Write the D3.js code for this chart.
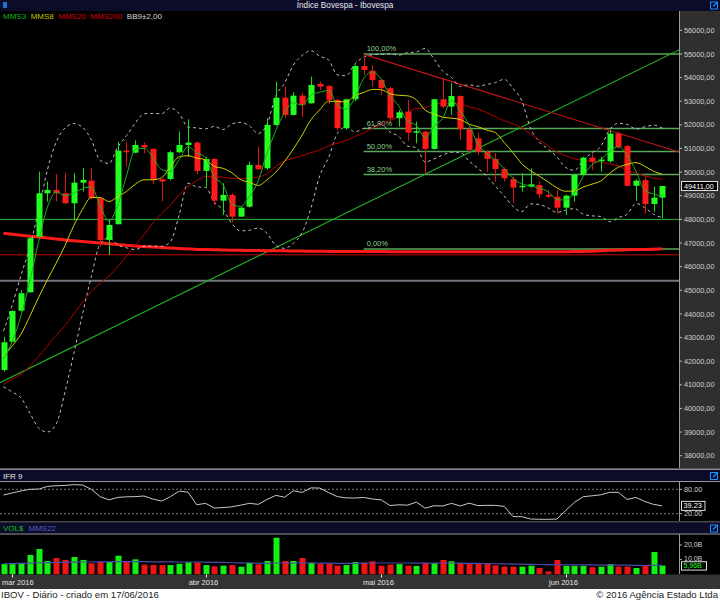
<!DOCTYPE html>
<html>
<head>
<meta charset="utf-8">
<script src="https://cdnjs.cloudflare.com/ajax/libs/d3/7.8.5/d3.min.js"></script>
<style>
    body { margin: 0; background: #ffffff; }
    svg { display: block; font-family: "Liberation Sans", Arial, sans-serif; }
</style>
</head>
<body>
<svg id="chart"></svg>
<script>

// trading days shown on the chart
var dates = ["2016-02-29",
    "2016-03-01","2016-03-02","2016-03-03","2016-03-04","2016-03-07","2016-03-08","2016-03-09","2016-03-10","2016-03-11",
    "2016-03-14","2016-03-15","2016-03-16","2016-03-17","2016-03-18","2016-03-21","2016-03-22","2016-03-23","2016-03-24",
    "2016-03-28","2016-03-29","2016-03-30","2016-03-31",
    "2016-04-01","2016-04-04","2016-04-05","2016-04-06","2016-04-07","2016-04-08","2016-04-11","2016-04-12","2016-04-13",
    "2016-04-14","2016-04-15","2016-04-18","2016-04-19","2016-04-20","2016-04-22","2016-04-25","2016-04-26","2016-04-27",
    "2016-04-28","2016-04-29",
    "2016-05-02","2016-05-03","2016-05-04","2016-05-05","2016-05-06","2016-05-09","2016-05-10","2016-05-11","2016-05-12",
    "2016-05-13","2016-05-16","2016-05-17","2016-05-18","2016-05-19","2016-05-20","2016-05-23","2016-05-24","2016-05-25",
    "2016-05-27","2016-05-30","2016-05-31",
    "2016-06-01","2016-06-02","2016-06-03","2016-06-06","2016-06-07","2016-06-08","2016-06-09","2016-06-10","2016-06-13",
    "2016-06-14","2016-06-15","2016-06-16"];

var open = [41627,42824,44136,44915,47268,49105,49244,49105,48681,49553,
    49638,48893,47128,47793,50907,50823,51149,50980,49700,49709,
    50840,51149,51246,50048,50556,48791,49033,48115,48537,50302,
    50162,51995,53150,52419,53235,52912,53730,53645,53052,51855,
    53082,54490,54290,53900,53550,52280,52560,51690,51710,50980,
    53082,52770,53220,51810,51430,50865,50556,50133,49700,49380,
    49380,49456,49033,48960,48495,49003,49880,50611,50458,50458,
    51630,51100,49420,49660,48650,48920];
var high = [43040,44150,45000,47250,50019,49596,49920,49977,49950,50163,
    50163,48930,47975,51289,51289,51345,51250,51010,49720,50900,
    51712,52236,51300,50654,50600,49528,49105,48537,50442,51077,
    52279,53828,53616,53380,53337,54039,53828,53700,53100,53100,
    54550,54985,54530,53950,53600,52630,53052,52135,51750,53100,
    53970,53760,53250,51850,51670,50900,50797,50200,49807,49950,
    50163,49600,49245,49245,49050,49900,50650,50797,50654,51780,
    51700,51150,49700,49807,49384,49420];
var low = [41550,42790,44100,44900,47200,48750,48750,48650,47945,49173,
    48850,46845,46494,47793,50230,50800,50800,49500,48770,49650,
    50800,50654,49900,49384,48610,48187,47877,48100,48500,50090,
    50100,51950,52279,52400,52347,52900,53476,52900,51750,51800,
    53000,54110,53616,53265,52200,51923,51330,51220,49920,50950,
    52700,52420,51360,50850,50725,50000,49596,49600,48681,49173,
    49350,48900,48900,48258,48187,48750,49850,50090,50019,50400,
    51000,49400,48780,48230,48325,48046];
var close = [42799,44123,44873,47200,49105,49244,49105,48681,49553,49667,
    48893,47128,47763,50907,50840,51149,51050,49667,49600,50840,
    51149,51246,50048,50556,48791,49033,48115,48495,50302,50121,
    51995,53150,52419,53235,52842,53688,53616,53052,51855,53082,
    54490,54320,53900,53550,52280,52532,51670,51730,50980,53082,
    52770,53220,51810,50937,50865,50556,50133,49740,49345,49420,
    49484,49063,48960,48495,49003,49880,50611,50442,50530,51630,
    51065,49420,49635,48650,48920,49411];

// financial volume, billions
var volume = [7.0,7.0,7.7,13.2,17.3,9.1,11.1,9.8,11.8,9.8,
    7.5,8.4,8.4,12.7,9.1,10.2,6.6,6.3,6.3,6.3,
    7.2,8.2,8.2,6.3,5.4,5.9,6.3,5.2,7.9,6.8,
    9.1,25.0,9.1,9.1,11.1,7.9,7.2,7.2,5.9,6.3,
    8.4,7.9,8.9,5.9,6.6,7.0,5.9,5.7,7.7,7.7,
    9.8,8.9,7.7,7.0,7.0,7.7,6.1,5.2,5.2,5.2,
    5.9,4.3,2.0,9.8,5.7,5.7,5.7,4.8,5.2,7.0,
    5.2,5.2,4.3,6.3,15.2,5.96];
var volMms22 = [7.2,7.3,7.4,7.6,7.9,8.0,8.1,8.2,8.3,8.4,
    8.4,8.5,8.5,8.6,8.6,8.6,8.6,8.5,8.5,8.5,
    8.4,8.4,8.4,8.3,8.2,8.1,7.9,7.8,7.7,7.6,
    7.5,7.7,7.7,7.7,7.8,7.7,7.6,7.6,7.5,7.5,
    7.5,7.6,7.7,7.7,7.7,7.7,7.7,7.6,7.6,7.6,
    7.7,7.7,7.6,7.5,7.4,7.3,7.2,7.1,7.0,6.9,
    6.8,6.7,6.6,6.6,6.5,6.5,6.4,6.4,6.3,6.3,
    6.3,6.2,6.1,6.1,6.1,6.2];

var mms3 = [42100,42840,43932,45399,47059,48516,49151,49010,49113,49300,
    49371,48563,47928,48599,49837,50965,51013,50622,50106,50036,
    50530,51078,50814,50617,49798,49460,48646,48548,48971,49639,
    50806,51755,52521,52935,52832,53255,53382,53452,52841,52663,
    53142,53964,54237,53923,53243,52787,52161,51977,51460,51931,
    52277,53024,52600,51989,51204,50786,50518,50143,49739,49502,
    49416,49322,49169,48839,48819,49126,49831,50311,50528,50867,
    51075,50705,50040,49235,49068,48994];
var mms8 = [42200,42650,43150,43900,44700,45450,46150,46891,47736,48429,
    48931,48922,48754,48962,49179,49488,49675,49675,49763,50227,
    50650,50693,50594,50520,50237,50158,49972,49679,49573,49433,
    49676,50000,50454,50979,51570,52219,52633,53000,52982,52974,
    53233,53368,53500,53483,53316,53251,53228,53059,52620,52466,
    52324,52283,52224,52025,51924,51778,51672,51254,50826,50351,
    50060,49826,49588,49330,49189,49206,49365,49492,49623,49944,
    50207,50323,50402,50248,50037,49908];
var mms20 = [41000,41250,41450,41800,42200,42650,43100,43500,44000,44500,
    44950,45300,45600,46000,46450,46900,47350,47850,48250,48609,
    49027,49383,49642,49810,49794,49783,49734,49725,49762,49785,
    49940,50241,50474,50590,50690,50817,50945,51115,51227,51340,
    51507,51660,51853,52003,52177,52352,52530,52691,52725,52873,
    52912,52916,52885,52770,52671,52515,52341,52175,52050,51867,
    51616,51353,51106,50854,50690,50557,50504,50440,50417,50345,
    50259,50069,49961,49846,49749,49692];
var mms200 = [47410,47370,47330,47290,47250,47210,47170,47130,47098,47066,
    47034,47002,46970,46938,46905,46870,46850,46830,46810,46790,
    46770,46750,46730,46722,46714,46706,46698,46690,46685,46681,
    46676,46672,46667,46663,46658,46654,46649,46645,46640,46639,
    46638,46638,46637,46636,46635,46634,46633,46632,46631,46630,
    46630,46629,46628,46628,46627,46627,46626,46626,46625,46625,
    46625,46627,46629,46631,46633,46636,46645,46655,46670,46690,
    46700,46710,46720,46730,46740,46750];
var bbUpper = [43277,44378,45647,46832,48398,50091,51276,51868,52054,51896,
    51368,50495,50365,51058,51544,52076,52467,52480,52473,52717,
    52470,51906,51870,51831,51931,51802,52039,52102,51956,51635,
    52023,53227,53764,54530,54936,55138,54902,54755,54118,54076,
    54579,54860,54964,54985,55008,54949,55054,55081,55232,54789,
    54277,54005,53626,53693,53635,53707,53788,53926,53537,53017,
    51856,51272,50976,50639,50195,50076,50510,50817,51091,51792,
    52063,52020,51821,51916,51987,51862];
var bbLower = [40920,40696,40442,39807,39172,39003,39342,40696,42314,44000,
    45588,46963,47217,46926,46796,46720,46855,46868,46861,47049,
    48190,49530,49374,49351,48727,48406,47823,47514,47540,47631,
    47411,46895,46772,46994,47436,48474,49850,50607,51630,51912,
    51707,51848,51892,52029,51692,51509,51098,51041,50424,50553,
    50721,50841,50834,50469,50159,49839,49404,48990,48549,48325,
    48656,48628,48484,48295,48391,48456,48214,48149,48123,47900,
    48075,48220,48673,48500,48215,48074];

var ifr = [66,71,76,80,80.5,87,88.8,89.5,91.5,90.5,
    80,62,54,60,61.5,62,63.5,56,51,62,
    75.5,73,42,45.5,34,35,37,41,45.5,43,
    55,65,60.5,76.5,72.4,83.5,83,72,62,59,
    58.5,60,56,54,40,42,41,48.5,33.5,39.5,
    39,45.5,39,46,40,40.5,40.5,38,13,12.6,
    7,6.2,6.2,6.8,28,48,61.8,64,66.5,72.5,
    72.6,55,60,50,43,39.23];

// drawn objects: trend lines (day index, price), horizontal levels, fibonacci
var greenTrend = [[-0.4, 41090], [76.9, 55170]];
var redTrend = [[41.3, 54950], [76.9, 50850]];
var levels = [48000, 46500, 45400];
var fibHigh = 55000, fibLow = 46750, fibStart = 41;
var fibLevels = [1, 0.618, 0.5, 0.382, 0];
var fibLabels = ["100,00%", "61,80%", "50,00%", "38,20%", "0,00%"];

var priceTicks = [38000,39000,40000,41000,42000,43000,44000,45000,46000,47000,
    48000,49000,50000,51000,52000,53000,54000,55000,56000];
var ifrTicks = [20, 80];
var volTicks = [10, 20];
var monthNames = ["jan","fev","mar","abr","mai","jun","jul","ago","set","out","nov","dez"];

var W = 720, H = 600;
var plotRight = 679;

var svg = d3.select("#chart").attr("width", W).attr("height", H);

svg.append("rect").attr("width", W).attr("height", H).attr("fill", "#000");

var x = d3.scaleLinear().domain([-0.4, 76.9]).range([0, plotRight]);
var y = d3.scaleLinear().domain([38000, 56000]).range([455.7, 30.3]);
var yIfr = d3.scaleLinear().domain([20, 80]).range([513.7, 489.3]);
var yVol = d3.scaleLinear().domain([0, 20]).range([574.3, 545]);

var idx = d3.range(dates.length);

//clip regions for the three panels
var defs = svg.append("defs");
defs.append("clipPath").attr("id", "clipMain")
    .append("rect").attr("x", 0).attr("y", 11).attr("width", plotRight).attr("height", 457);
defs.append("clipPath").attr("id", "clipIfr")
    .append("rect").attr("x", 0).attr("y", 482).attr("width", plotRight).attr("height", 39);
defs.append("clipPath").attr("id", "clipVol")
    .append("rect").attr("x", 0).attr("y", 534).attr("width", plotRight).attr("height", 41);

// ---------- frame ----------
svg.append("rect").attr("x", 0).attr("y", 0).attr("width", W).attr("height", 11).attr("fill", "#0b0b2a");
svg.append("text").attr("x", 345).attr("y", 8.2).attr("text-anchor", "middle")
    .attr("fill", "#e8e8e8").attr("font-size", 8.2).text("Índice Bovespa - Ibovespa");

function icon(x0, y0) {
    svg.append("rect").attr("x", x0 + 0.5).attr("y", y0 + 0.5).attr("width", 7).attr("height", 7)
        .attr("fill", "none").attr("stroke", "#1e8fff");
    svg.append("path").attr("d", "M" + (x0 + 3) + "," + (y0 + 5) + "L" + (x0 + 7) + "," + (y0 + 1))
        .attr("stroke", "#1e8fff").attr("stroke-width", 1.2);
}
svg.append("rect").attr("x", 3).attr("y", 2).attr("width", 4).attr("height", 6).attr("fill", "#1a6fd8");
icon(710, 1.5);

// right axis of the price panel
svg.append("rect").attr("x", plotRight).attr("y", 11).attr("width", W - plotRight).attr("height", 457).attr("fill", "#2f2f2f");
svg.append("line").attr("x1", plotRight + 0.5).attr("x2", plotRight + 0.5).attr("y1", 11).attr("y2", 468)
    .attr("stroke", "#9a9a9a");

var pAxis = svg.append("g");
pAxis.selectAll("line").data(priceTicks).enter().append("line")
    .attr("x1", plotRight).attr("x2", plotRight + 3)
    .attr("y1", function (d) { return y(d); }).attr("y2", function (d) { return y(d); })
    .attr("stroke", "#bbb");
pAxis.selectAll("text").data(priceTicks).enter().append("text")
    .attr("x", 684).attr("y", function (d) { return y(d) + 2.6; })
    .attr("fill", "#d0d0d0").attr("font-size", 7.3)
    .text(function (d) { return d + ",00"; });

// ---------- price panel ----------
var main = svg.append("g").attr("clip-path", "url(#clipMain)");

// horizontal levels
var levelColors = ["#2fb52f", "#c80000", "#74747f"];
var levelWidths = [1, 1, 2];
levels.forEach(function (v, k) {
    main.append("line").attr("x1", 0).attr("x2", plotRight)
        .attr("y1", y(v)).attr("y2", y(v))
        .attr("stroke", levelColors[k]).attr("stroke-width", levelWidths[k]);
});

// fibonacci retracement
fibLevels.forEach(function (f, k) {
    var v = fibLow + (fibHigh - fibLow) * f;
    main.append("line").attr("x1", x(fibStart)).attr("x2", plotRight)
        .attr("y1", y(v)).attr("y2", y(v))
        .attr("stroke", "#58a858").attr("stroke-width", 1.5);
    main.append("text").attr("x", x(fibStart) + 3).attr("y", y(v) - 2.5)
        .attr("fill", "#8fd08f").attr("font-size", 7.5).text(fibLabels[k]);
});

// trend lines
function trend(pts, color) {
    main.append("line")
        .attr("x1", x(pts[0][0])).attr("y1", y(pts[0][1]))
        .attr("x2", x(pts[1][0])).attr("y2", y(pts[1][1]))
        .attr("stroke", color).attr("stroke-width", 1.1);
}
trend(greenTrend, "#22b022");
trend(redTrend, "#c81414");

// MMS200
var lineOf = function (arr, sc) {
    return d3.line().x(function (i) { return x(i); }).y(function (i) { return sc(arr[i]); }).curve(d3.curveMonotoneX)(idx);
};
main.append("path").attr("d", lineOf(mms200, y)).attr("fill", "none")
    .attr("stroke", "#ff1a1a").attr("stroke-width", 3);

// bollinger bands
[bbUpper, bbLower].forEach(function (arr) {
    main.append("path").attr("d", lineOf(arr, y)).attr("fill", "none")
        .attr("stroke", "#bdbdbd").attr("stroke-width", 1).attr("stroke-dasharray", "3,3");
});

main.append("path").attr("d", lineOf(mms20, y)).attr("fill", "none").attr("stroke", "#b40000").attr("stroke-width", 1);

// candles
var up = function (i) { return close[i] >= open[i]; };
var candle = main.selectAll("g.candle").data(idx).enter().append("g").attr("class", "candle");
candle.append("line")
    .attr("x1", function (i) { return Math.round(x(i)) + 0.5; })
    .attr("x2", function (i) { return Math.round(x(i)) + 0.5; })
    .attr("y1", function (i) { return y(high[i]); })
    .attr("y2", function (i) { return y(low[i]); })
    .attr("stroke", function (i) { return up(i) ? "#14e014" : "#e01414"; });
candle.append("rect")
    .attr("x", function (i) { return Math.round(x(i)) - 2.5; })
    .attr("width", 6)
    .attr("y", function (i) { return y(Math.max(open[i], close[i])); })
    .attr("height", function (i) { return Math.max(1.5, Math.abs(y(open[i]) - y(close[i]))); })
    .attr("fill", function (i) { return up(i) ? "#22ff22" : "#ff1a1a"; });

main.append("path").attr("d", lineOf(mms8, y)).attr("fill", "none").attr("stroke", "#d2d200").attr("stroke-width", 1);
main.append("path").attr("d", lineOf(mms3, y)).attr("fill", "none").attr("stroke", "#1fb01f").attr("stroke-width", 1);

// legend
var legend = [["MMS3", "#12b812"], ["MMS8", "#c0c000"], ["MMS20", "#dd0000"], ["MMS200", "#dd0000"], ["BB9±2,00", "#d8d8d8"]];
var lx = 3;
legend.forEach(function (d) {
    var t = svg.append("text").attr("x", lx).attr("y", 18.8).attr("fill", d[1]).attr("font-size", 8).text(d[0]);
    lx += t.node().getComputedTextLength() + 4.5;
});

// last price tag
var lastY = y(close[close.length - 1]);
svg.append("rect").attr("x", 681.5).attr("y", lastY - 4.5).attr("width", 36).attr("height", 9)
    .attr("fill", "#000").attr("stroke", "#e0e0e0");
svg.append("text").attr("x", 684).attr("y", lastY + 2.6).attr("fill", "#fff").attr("font-size", 7.3)
    .text(close[close.length - 1] + ",00");

// ---------- IFR panel ----------
function header(y0, parts) {
    svg.append("line").attr("x1", 0).attr("x2", W).attr("y1", y0 - 0.5).attr("y2", y0 - 0.5).attr("stroke", "#8a8a8a");
    svg.append("rect").attr("x", 0).attr("y", y0).attr("width", W).attr("height", 11).attr("fill", "#0b0b2a");
    svg.append("line").attr("x1", 0).attr("x2", W).attr("y1", y0 + 11.5).attr("y2", y0 + 11.5).attr("stroke", "#9a9a9a");
    var hx = 3;
    parts.forEach(function (p) {
        var t = svg.append("text").attr("x", hx).attr("y", y0 + 8.5).attr("fill", p[1]).attr("font-size", 8).text(p[0]);
        hx += t.node().getComputedTextLength() + 5;
    });
    icon(710, y0 + 2);
}

svg.append("rect").attr("x", 0).attr("y", 468).attr("width", W).attr("height", 1.5).attr("fill", "#555");
header(470, [["IFR 9", "#e8e8e8"]]);
svg.append("line").attr("x1", plotRight + 0.5).attr("x2", plotRight + 0.5).attr("y1", 482).attr("y2", 521)
    .attr("stroke", "#9a9a9a");

var ifrG = svg.append("g").attr("clip-path", "url(#clipIfr)");
ifrTicks.forEach(function (v) {
    ifrG.append("line").attr("x1", 0).attr("x2", plotRight).attr("y1", yIfr(v)).attr("y2", yIfr(v))
        .attr("stroke", "#777").attr("stroke-dasharray", "2,2");
});
ifrG.append("path")
    .attr("d", d3.line().x(function (i) { return x(i); }).y(function (i) { return yIfr(ifr[i]); })(idx))
    .attr("fill", "none").attr("stroke", "#c8c8c8").attr("stroke-width", 1);

ifrTicks.forEach(function (v) {
    svg.append("line").attr("x1", plotRight).attr("x2", plotRight + 3).attr("y1", yIfr(v)).attr("y2", yIfr(v)).attr("stroke", "#bbb");
    svg.append("text").attr("x", 684).attr("y", yIfr(v) + 2.6).attr("fill", "#d0d0d0").attr("font-size", 7.3)
        .text(v.toFixed(2));
});
var lastIfr = yIfr(ifr[ifr.length - 1]);
svg.append("rect").attr("x", 681.5).attr("y", lastIfr - 4.5).attr("width", 23.5).attr("height", 9)
    .attr("fill", "#000").attr("stroke", "#e0e0e0");
svg.append("text").attr("x", 683.5).attr("y", lastIfr + 2.6).attr("fill", "#fff").attr("font-size", 7.3)
    .text(ifr[ifr.length - 1].toFixed(2));

// ---------- volume panel ----------
header(522.5, [["VOL$", "#10c010"], ["MMS22", "#5a5ac8"]]);
svg.append("line").attr("x1", plotRight + 0.5).attr("x2", plotRight + 0.5).attr("y1", 534).attr("y2", 574)
    .attr("stroke", "#9a9a9a");

var volG = svg.append("g").attr("clip-path", "url(#clipVol)");
volG.selectAll("rect").data(idx).enter().append("rect")
    .attr("x", function (i) { return Math.round(x(i)) - 2.5; })
    .attr("width", 6)
    .attr("y", function (i) { return yVol(volume[i]); })
    .attr("height", function (i) { return yVol(0) - yVol(volume[i]); })
    .attr("fill", function (i) { return up(i) ? "#14f014" : "#f01414"; });
volG.append("path")
    .attr("d", d3.line().x(function (i) { return x(i); }).y(function (i) { return yVol(volMms22[i]); })(idx))
    .attr("fill", "none").attr("stroke", "#4a4aa8").attr("stroke-width", 1.2);

volTicks.forEach(function (v) {
    svg.append("line").attr("x1", plotRight).attr("x2", plotRight + 3).attr("y1", yVol(v)).attr("y2", yVol(v)).attr("stroke", "#bbb");
    svg.append("text").attr("x", 684).attr("y", yVol(v) + 1.8).attr("fill", "#d0d0d0").attr("font-size", 7)
        .text(v.toFixed(1).replace(".", ",") + "B");
});
var lastVol = yVol(volume[volume.length - 1]);
svg.append("rect").attr("x", 681.5).attr("y", lastVol - 3.8).attr("width", 25).attr("height", 8.3)
    .attr("fill", "#000").attr("stroke", "#e0e0e0");
svg.append("text").attr("x", 683.5).attr("y", lastVol + 2.9).attr("fill", "#22ff22").attr("font-size", 7)
    .text(volume[volume.length - 1].toFixed(2).replace(".", ",") + "B");

// ---------- time axis ----------
svg.append("rect").attr("x", 0).attr("y", 574.5).attr("width", W).attr("height", 14.5).attr("fill", "#333");
var monthStarts = idx.filter(function (i) {
    return i > 0 && dates[i].slice(5, 7) !== dates[i - 1].slice(5, 7);
});
monthStarts.forEach(function (i) {
    var px = Math.round(x(i)) + 0.5;
    svg.append("line").attr("x1", px).attr("x2", px).attr("y1", 574.5).attr("y2", 577.5).attr("stroke", "#eee");
    var t = svg.append("text").attr("y", 584.5).attr("fill", "#e6e6e6").attr("font-size", 7.5)
        .text(monthNames[+dates[i].slice(5, 7) - 1] + " " + dates[i].slice(0, 4));
    var w = t.node().getComputedTextLength();
    t.attr("x", Math.max(2, px - 3 - w / 2));
});

// footer
svg.append("rect").attr("x", 0).attr("y", 589).attr("width", W).attr("height", 11).attr("fill", "#fff");
svg.append("text").attr("x", 1).attr("y", 597.5).attr("fill", "#222").attr("font-size", 9.6)
    .text("IBOV - Diário - criado em 17/06/2016");
svg.append("text").attr("x", 718).attr("y", 597.5).attr("text-anchor", "end").attr("fill", "#222").attr("font-size", 9.6)
    .text("© 2016 Agência Estado Ltda");

</script>
</body>
</html>
